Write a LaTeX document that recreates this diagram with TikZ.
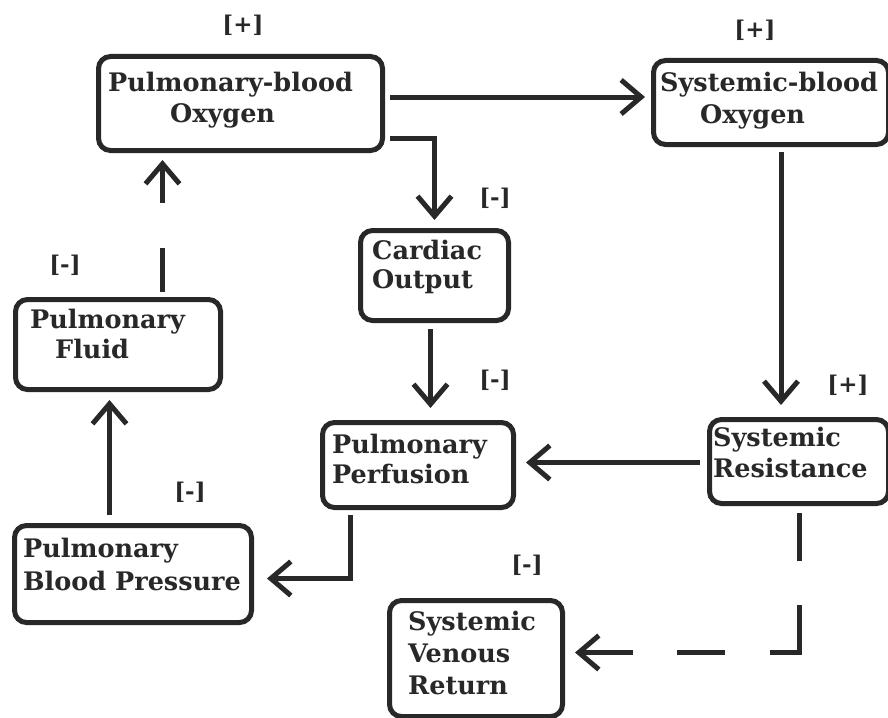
\documentclass[tikz,border=0pt]{standalone}
\usepackage{fontspec}
\setmainfont{DejaVu Serif}
\usetikzlibrary{arrows.meta,calc}
\definecolor{ink}{RGB}{40,40,40}
\begin{document}
\begin{tikzpicture}[x=1pt,y=-1pt,
  box/.style={draw=ink,line width=5pt,rounded corners=12pt,inner sep=0pt,anchor=north west},
  txt/.style={anchor=base west,inner sep=0pt,text=ink,font=\bfseries\fontsize{25.5}{28}\selectfont},
  sgn/.style={inner sep=0pt,text=ink,font=\bfseries\fontsize{23}{26}\selectfont},
  arr/.style={draw=ink,line width=5pt,-{Straight Barb[length=20pt,width=34pt]}},
]
\path[use as bounding box,fill=white] (0,0) rectangle (888,717);
% boxes
\node[box,minimum width=284pt,minimum height=94pt] (pbo) at (96,54) {};
\node[box,minimum width=235pt,minimum height=84pt] (sbo) at (651,58) {};
\node[box,minimum width=148pt,minimum height=90pt] (co) at (358,228) {};
\node[box,minimum width=205pt,minimum height=90pt] (pf) at (13,297) {};
\node[box,minimum width=191pt,minimum height=85pt] (pp) at (320,420) {};
\node[box,minimum width=179pt,minimum height=84pt] (sr) at (707,417) {};
\node[box,minimum width=237pt,minimum height=97pt] (pbp) at (12,523) {};
\node[box,minimum width=173pt,minimum height=116pt] (svr) at (387,598) {};
% texts
\node[txt] (pboa) at (108,92) {Pulmonary-blood};
\node[txt] (pbob) at (170,122) {Oxygen};
\node[txt] (sboa) at (660,92) {Systemic-blood};
\node[txt] (sbob) at (700,123) {Oxygen};
\node[txt] (coa) at (372,259) {Cardiac};
\node[txt] (cob) at (372,288) {Output};
\node[txt] (pfa) at (30,328) {Pulmonary};
\node[txt] (pfb) at (55,358) {Fluid};
\node[txt] (ppa) at (332,453) {Pulmonary};
\node[txt] (ppb) at (332,483) {Perfusion};
\node[txt] (sra) at (713,446) {Systemic};
\node[txt] (srb) at (713,477) {Resistance};
\node[txt] (pbpa) at (23,557) {Pulmonary};
\node[txt] (pbpb) at (23,590) {Blood Pressure};
\node[txt] (svra) at (408,630) {Systemic};
\node[txt] (svrb) at (408,662) {Venous};
\node[txt] (svrc) at (408,694) {Return};
% signs
\node[sgn] (s1) at (243,25) {[+]};
\node[sgn] (s2) at (755,30) {[+]};
\node[sgn] (s3) at (495,198) {[-]};
\node[sgn] (s4) at (65,265) {[-]};
\node[sgn] (s5) at (495,380) {[-]};
\node[sgn] (s6) at (848,385) {[+]};
\node[sgn] (s7) at (190,492) {[-]};
\node[sgn] (s8) at (527,565) {[-]};
% connectors
\draw[arr] ($(pbo.north east)+(5,43)$) coordinate (c1) -- ($(c1 -| sbo.west)+(-6,0)$);
\draw[arr] ($(pbo.south east)+(5,-15)$) -| ($(co.north)+(0,-8)$);
\draw[arr] ($(sbo.south)+(10,5)$) coordinate (c3) -- ($(c3 |- sr.north)+(0,-12)$);
\draw[arr] ($(co.south)+(-4,6)$) coordinate (c4) -- ($(c4 |- pp.north)+(0,-12)$);
\draw[arr] ($(sr.west)+(-7,1)$) coordinate (c5) -- ($(c5 -| pp.east)+(10,0)$);
\draw[arr] ($(pp.south)+(-67.5,5)$) |- ($(pbp.east)+(13,4.5)$);
\draw[arr] ($(pbp.north)+(-23.5,-8)$) coordinate (c7) -- ($(c7 |- pf.south)+(0,8)$);
\draw[arr,dash pattern=on 44pt off 45pt on 200pt] ($(pf.north)+(44.5,-5)$) coordinate (c8) -- ($(c8 |- pbo.south)+(0,7)$);
\draw[arr,dash pattern=on 48pt off 44pt on 77pt off 45pt on 48pt off 44pt on 200pt] ($(sr.south)+(0.5,7)$) |- ($(svr.east)+(10,-6)$);
\end{tikzpicture}
\end{document}
